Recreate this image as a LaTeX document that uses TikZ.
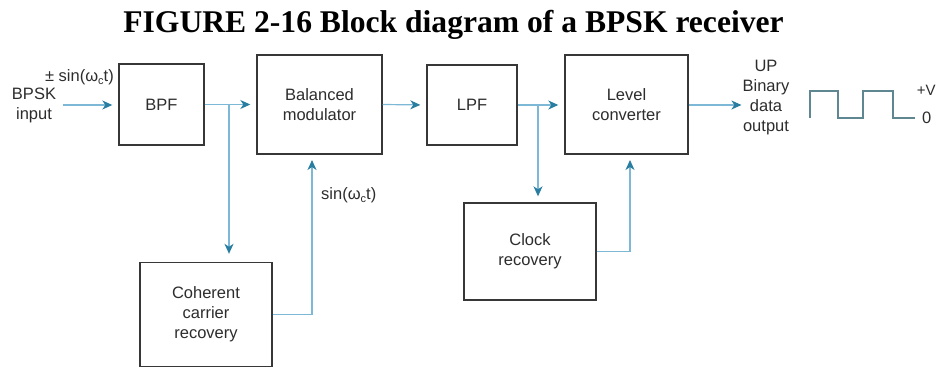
\documentclass[tikz,border=0pt]{standalone}
\usepackage{fontspec}
\setmainfont{Liberation Sans}
\newfontfamily\titlefont{Liberation Serif}
\usetikzlibrary{arrows.meta,calc}
\definecolor{boxline}{RGB}{55,55,55}
\definecolor{wire}{RGB}{125,185,215}
\definecolor{tipcol}{RGB}{40,125,160}
\definecolor{wavecol}{RGB}{95,135,145}
\definecolor{txt}{RGB}{45,45,45}
\newcommand{\subc}{\raisebox{-0.35ex}{\fontsize{11}{11}\selectfont c}}
\tikzset{
  blk/.style={draw=boxline,line width=1.4pt,fill=white,inner sep=0pt,align=center,text=txt,
    font=\fontsize{16.5}{20}\selectfont},
  lbl/.style={inner sep=0pt,align=center,text=txt,font=\fontsize{16.5}{20}\selectfont},
  wirearrow/.style={draw=wire,line width=1.2pt,
    -{Stealth[length=10pt,width=9pt,inset=3pt,color=tipcol]},shorten >=6pt},
  plainwire/.style={draw=wire,line width=1.2pt}
}
\begin{document}
\begin{tikzpicture}[x=1pt,y=-1pt]
\useasboundingbox (0,0) rectangle (936,369);
% title
\node[anchor=base,inner sep=0pt,font=\titlefont\bfseries\fontsize{31.6}{34}\selectfont] (title) at (453.5,33) {FIGURE 2-16 Block diagram of a BPSK receiver};
% blocks
\node[blk,minimum width=85pt,minimum height=81pt] (bpf) at (161.5,104.5) {BPF};
\node[blk,minimum width=125pt,minimum height=99pt] (bm) at (319.5,104.5) {Balanced\\modulator};
\node[blk,minimum width=90pt,minimum height=80pt] (lpf) at (472,105) {LPF};
\node[blk,minimum width=123pt,minimum height=99pt] (lc) at (626.5,104.5) {Level\\converter};
\node[blk,minimum width=132pt,minimum height=104pt] (ccr) at (206,314.5) {Coherent\\carrier\\recovery};
\node[blk,minimum width=132pt,minimum height=97pt] (cr) at (530,251.5) {Clock\\recovery};
% labels
\node[lbl] (inlbl) at (34,105) {BPSK\\input};
\node[lbl,anchor=east] (pm) at (114,77) {± sin(ω\subc t)};
\node[lbl,anchor=west] (sinlbl) at (321,195) {sin(ω\subc t)};
\node[lbl] (out) at (766,98) {UP\\Binary\\data\\output};
\node[lbl,anchor=east,font=\fontsize{15}{15}\selectfont] (vplus) at (935.8,90) {+V};
\node[lbl,anchor=west] (vzero) at (922,118) {0};
% coordinates
\coordinate (in) at (63,105);
\coordinate (b1) at (229,105);
\coordinate (c1) at (312,154);
\coordinate (b2) at (538,105);
\coordinate (c2) at (630,154);
% connectors
\draw[wirearrow] (in) -- (bpf.west |- in);
\draw[wirearrow] (bpf.east) -- (bm.west);
\draw[wirearrow,shorten >=8pt] (b1) -- (b1 |- ccr.north);
\draw[wirearrow,shorten >=6pt] (ccr.east) -| (c1);
\draw[wirearrow] (bm.east) -- (lpf.west);
\draw[wirearrow] (lpf.east) -- (lc.west |- lpf.east);
\draw[wirearrow,shorten >=6pt] (b2) -- (b2 |- cr.north);
\draw[wirearrow,shorten >=6pt] (cr.east) -| (c2);
\draw[wirearrow,shorten >=1pt] (lc.east |- lpf.east) -- (out.west |- lpf.east);
% square wave
\draw[wavecol,line width=1.3pt] (810,118) -- (810,91) -- (838,91) -- (838,118) -- (863,118) -- (863,91) -- (893,91) -- (893,118) -- (915,118);
\end{tikzpicture}
\end{document}
